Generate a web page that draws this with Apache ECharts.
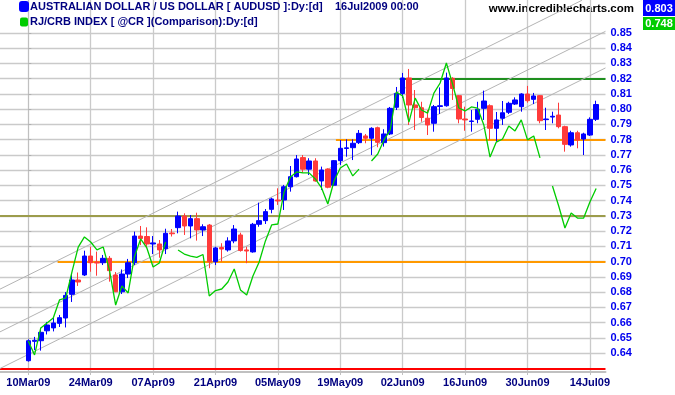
<!DOCTYPE html>
<html><head><meta charset="utf-8">
<script src="https://cdn.jsdelivr.net/npm/echarts@6/dist/echarts.min.js"></script>
<style>html,body{margin:0;padding:0;background:#fff}#c{width:675px;height:395px}</style>
</head><body><div id="c"></div>
<script>
const dates = ['10Mar09','11Mar09','12Mar09','13Mar09','16Mar09','17Mar09','18Mar09','19Mar09','20Mar09','23Mar09','24Mar09','25Mar09','26Mar09','27Mar09','30Mar09','31Mar09',
'01Apr09','02Apr09','03Apr09','06Apr09','07Apr09','08Apr09','09Apr09','10Apr09','13Apr09','14Apr09','15Apr09','16Apr09','17Apr09','20Apr09','21Apr09','22Apr09','23Apr09','24Apr09','27Apr09','28Apr09','29Apr09','30Apr09',
'01May09','04May09','05May09','06May09','07May09','08May09','11May09','12May09','13May09','14May09','15May09','18May09','19May09','20May09','21May09','22May09','25May09','26May09','27May09','28May09','29May09',
'01Jun09','02Jun09','03Jun09','04Jun09','05Jun09','08Jun09','09Jun09','10Jun09','11Jun09','12Jun09','15Jun09','16Jun09','17Jun09','18Jun09','19Jun09','22Jun09','23Jun09','24Jun09','25Jun09','26Jun09','29Jun09','30Jun09',
'01Jul09','02Jul09','03Jul09','06Jul09','07Jul09','08Jul09','09Jul09','10Jul09','13Jul09','14Jul09','15Jul09'];
const tickLabels = ['10Mar09','24Mar09','07Apr09','21Apr09','05May09','19May09','02Jun09','16Jun09','30Jun09','14Jul09'];
const yTicks = [0.64,0.65,0.66,0.67,0.68,0.69,0.70,0.71,0.72,0.73,0.74,0.75,0.76,0.77,0.78,0.79,0.80,0.81,0.82,0.83,0.84,0.85];

const opens = [0.6351,0.6478,0.6482,0.6547,0.6566,0.6596,0.6631,0.6786,0.6880,0.6913,0.7037,0.6998,0.6993,0.7022,0.6913,0.6803,0.6919,0.6993,0.7168,0.7165,
0.7116,0.7116,0.7085,0.7188,0.7223,0.7299,0.7234,0.7282,0.7208,0.7240,0.7000,0.7093,0.7077,0.7136,0.7175,0.7077,0.7064,0.7245,0.7269,0.7343,
0.7404,0.7404,0.7491,0.7557,0.7682,0.7606,0.7660,0.7529,0.7607,0.7501,0.7662,0.7742,0.7747,0.7780,0.7824,0.7809,0.7878,0.7780,0.7837,0.8012,
0.8102,0.8204,0.8027,0.8009,0.7940,0.7907,0.8017,0.8022,0.8202,0.8088,0.7935,0.7919,0.7933,0.8005,0.8022,0.7874,0.7940,0.7979,0.8033,0.8016,
0.8099,0.8064,0.8088,0.7931,0.7948,0.7961,0.7885,0.7765,0.7845,0.7804,0.7830,0.7933];
const closes = [0.6482,0.6485,0.6537,0.6585,0.6598,0.6633,0.6779,0.6880,0.6867,0.7037,0.6993,0.6991,0.7022,0.6941,0.6803,0.6919,0.6993,0.7168,0.7152,0.7116,
0.7123,0.7077,0.7186,0.7183,0.7299,0.7234,0.7282,0.7208,0.7229,0.7000,0.7090,0.7083,0.7136,0.7214,0.7073,0.7070,0.7245,0.7269,0.7328,0.7411,
0.7398,0.7491,0.7557,0.7673,0.7606,0.7660,0.7529,0.7601,0.7488,0.7662,0.7743,0.7746,0.7776,0.7841,0.7809,0.7874,0.7782,0.7837,0.8005,0.8102,
0.8204,0.8027,0.8009,0.7945,0.7896,0.8016,0.8022,0.8204,0.8135,0.7935,0.7929,0.7922,0.7999,0.8053,0.7874,0.7929,0.7976,0.8038,0.8060,0.8099,
0.8055,0.8086,0.7924,0.7935,0.7953,0.7885,0.7769,0.7845,0.7797,0.7837,0.7933,0.8030];
const lows = [0.6345,0.6421,0.6417,0.6523,0.6543,0.6572,0.6569,0.6736,0.6841,0.6906,0.6934,0.6908,0.6978,0.6869,0.6801,0.6788,0.6893,0.6978,0.7109,0.7088,
0.7050,0.7026,0.7050,0.7165,0.7186,0.7175,0.7153,0.7138,0.7168,0.6957,0.6978,0.7000,0.7066,0.7121,0.7066,0.6990,0.7059,0.7229,0.7247,0.7317,
0.7372,0.7339,0.7459,0.7552,0.7583,0.7568,0.7524,0.7470,0.7481,0.7496,0.7634,0.7688,0.7666,0.7771,0.7776,0.7699,0.7750,0.7754,0.7830,0.7994,
0.8073,0.7896,0.7863,0.7917,0.7830,0.7852,0.7968,0.8016,0.8060,0.7907,0.7858,0.7852,0.7907,0.7929,0.7797,0.7786,0.7896,0.7968,0.8027,0.7983,
0.8042,0.8033,0.7907,0.7863,0.7907,0.7874,0.7721,0.7754,0.7743,0.7699,0.7824,0.7922];
const highs = [0.6491,0.6507,0.6566,0.6605,0.6631,0.6651,0.6801,0.6919,0.6929,0.7072,0.7098,0.7066,0.7044,0.7037,0.6932,0.6949,0.7018,0.7197,0.7234,0.7225,
0.7168,0.7142,0.7216,0.7214,0.7328,0.7317,0.7306,0.7321,0.7245,0.7247,0.7098,0.7121,0.7160,0.7240,0.7190,0.7098,0.7254,0.7387,0.7345,0.7419,
0.7481,0.7503,0.7627,0.7699,0.7699,0.7678,0.7678,0.7623,0.7612,0.7666,0.7797,0.7802,0.7802,0.7863,0.7837,0.7881,0.7885,0.7868,0.8014,0.8145,
0.8237,0.8263,0.8125,0.8048,0.7994,0.8027,0.8142,0.8239,0.8209,0.8092,0.8016,0.7994,0.8048,0.8121,0.8031,0.7981,0.8053,0.8048,0.8077,0.8104,
0.8152,0.8106,0.8092,0.8009,0.7983,0.8042,0.7891,0.7858,0.7858,0.7845,0.7946,0.8055];
const crb = [0.6480,0.6389,0.6566,0.6598,0.6631,0.6749,0.6762,0.6933,0.7096,0.7162,0.7129,0.7077,0.7096,0.6946,0.6716,0.6841,0.6795,0.7031,0.7149,0.7090,
0.6965,0.6991,0.7129,null,0.7077,0.7050,0.7037,0.7028,0.7047,0.6775,0.6811,0.6821,0.6867,0.6952,0.6815,0.6782,0.6906,0.6998,0.7136,0.7241,
0.7247,0.7457,0.7555,0.7588,0.7582,0.7582,0.7542,0.7483,0.7378,0.7529,0.7614,0.7640,0.7562,0.7607,null,0.7660,0.7706,0.7798,0.7863,0.8112,
0.8086,0.7915,0.8072,0.7994,0.7974,0.8105,0.8171,0.8302,0.8164,0.8007,0.7988,0.8014,0.8007,0.7896,0.7686,0.7784,0.7804,0.7889,0.7857,0.7929,
0.7798,0.7824,0.7680,null,0.7496,0.7365,0.7221,0.7319,0.7286,0.7286,0.7391,0.7480];

// annotation levels drawn on the chart
const levelValues = [0.63, 0.73, 0.70, 0.78, 0.82];
const levelStartDates = [null, null, '17Mar09', '19May09', '02Jun09'];
const channelStartValues = [0.682, 0.654, 0.630];
const channelSlopePerDay = 0.00203;

const audName = 'AUSTRALIAN DOLLAR / US DOLLAR [ AUDUSD ]:Dy:[d]    16Jul2009 00:00';
const crbName = 'RJ/CRB INDEX [ @CR ](Comparison):Dy:[d]';

const X_MIN = -4.535, X_MAX = 92.5, Y_MIN = 0.6277, Y_MAX = 0.8715;
const EPS_X = 0.002, EPS_Y = 0.00002;
const idx = d => dates.indexOf(d);
const candleData = dates.map((d, i) => [i, opens[i], closes[i], lows[i], highs[i]]);
const crbData = dates.map((d, i) => [i, crb[i] == null ? null : crb[i]]);
const tickIdx = tickLabels.map(idx);

const gridLines = [];
tickIdx.forEach(i => gridLines.push([{coord:[i, Y_MIN + EPS_Y]}, {coord:[i, Y_MAX - EPS_Y]}]));
yTicks.forEach(v => gridLines.push([{coord:[X_MIN + EPS_X, v]}, {coord:[X_MAX - EPS_X, v]}]));

const annLines = [];
const levelStyles = [
  {color:'#ff0000', width:2, type:'solid'},
  {color:'#9c9c4c', width:2, type:'solid'},
  {color:'#ff9900', width:2, type:'solid'},
  {color:'#ff9900', width:2, type:'solid'},
  {color:'#1f8f1f', width:2, type:'solid'}
];
const levelStartShift = [0, 0, -0.3, -0.7, -0.5];
levelValues.forEach((v, k) => {
  const s = levelStartDates[k] == null ? X_MIN + EPS_X : idx(levelStartDates[k]) + levelStartShift[k];
  annLines.push([{coord:[s, v], lineStyle: levelStyles[k]}, {coord:[X_MAX - EPS_X, v]}]);
});
channelStartValues.forEach(v0 => {
  let xe = X_MAX - EPS_X, ye = v0 + channelSlopePerDay * (xe - X_MIN);
  if (ye > Y_MAX - 0.0002) { ye = Y_MAX - 0.0002; xe = X_MIN + (ye - v0) / channelSlopePerDay; }
  annLines.push([
    {coord:[X_MIN + EPS_X, v0], lineStyle:{color:'#b4b4b4', width:1, type:'solid'}},
    {coord:[xe, ye]}
  ]);
});

const chart = echarts.init(document.getElementById('c'), null, {renderer:'canvas'});
chart.setOption({
  animation: false,
  backgroundColor: '#ffffff',
  grid: {left: 0, right: 69.5, top: 0, bottom: 23, containLabel: false},
  legend: {
    orient: 'vertical', left: 19, top: 1, padding: 0, itemGap: 4.5, itemWidth: 8, itemHeight: 9,
    selectedMode: false,
    textStyle: {fontFamily: 'Arial', fontWeight: 'bold', fontSize: 11, color: '#000080', padding: [0,0,0,-3]},
    data: [
      {name: audName, icon: 'roundRect', itemStyle: {color: '#0000ff'}},
      {name: crbName, icon: 'roundRect', itemStyle: {color: '#00cc00'}}
    ]
  },
  xAxis: {
    type: 'value', min: X_MIN, max: X_MAX,
    axisLine: {show: true, onZero: false, lineStyle: {color: '#c0c0c0', width: 2}},
    axisTick: {show: true, length: 3, customValues: tickIdx, lineStyle: {color: '#c0c0c0'}},
    axisLabel: {
      customValues: tickIdx, margin: 5,
      formatter: v => dates[Math.round(v)] || '',
      fontFamily: 'Arial', fontWeight: 'bold', fontSize: 11, color: '#000080'
    },
    splitLine: {show: false}
  },
  yAxis: {
    type: 'value', position: 'right', min: Y_MIN, max: Y_MAX, scale: true,
    axisLine: {show: true, lineStyle: {color: '#c0c0c0', width: 1}},
    axisTick: {show: true, length: 3, customValues: yTicks, lineStyle: {color: '#b0b0b0'}},
    axisLabel: {
      customValues: yTicks, margin: 5,
      formatter: v => v.toFixed(2),
      fontFamily: 'Arial', fontWeight: 'bold', fontSize: 11, color: '#0000ee'
    },
    splitLine: {show: false}
  },
  graphic: [
    {type: 'text', right: 41, top: 3, style: {text: 'www.incrediblecharts.com', font: 'bold 11.5px Arial', fill: '#000000'}},
    {type: 'rect', shape: {x: 643, y: 0, width: 32, height: 16}, style: {fill: '#0000ff'}},
    {type: 'text', x: 659, y: 8.5, style: {text: closes[closes.length-1].toFixed(3), font: 'bold 11px Arial', fill: '#ffffff', align: 'center', verticalAlign: 'middle'}},
    {type: 'rect', shape: {x: 643, y: 17, width: 32, height: 13}, style: {fill: '#00cc00'}},
    {type: 'text', x: 659, y: 23.5, style: {text: crb[crb.length-1].toFixed(3), font: 'bold 11px Arial', fill: '#ffffff', align: 'center', verticalAlign: 'middle'}}
  ],
  series: [
    {
      name: audName, type: 'candlestick', z: 2, barWidth: 5,
      encode: {x: 0, y: [1, 2, 3, 4]},
      data: candleData,
      itemStyle: {color: '#0000ff', color0: '#ff3b3b', borderColor: '#0000ff', borderColor0: '#ff3b3b', borderWidth: 1},
      markLine: {
        silent: true, symbol: 'none', z: 0, animation: false,
        label: {show: false},
        lineStyle: {color: '#cacaca', width: 1.3, type: 'solid', opacity: 1},
        data: gridLines
      }
    },
    {
      name: crbName, type: 'line', z: 3, showSymbol: false, connectNulls: false,
      data: crbData,
      lineStyle: {color: '#00cc00', width: 1.3},
      itemStyle: {color: '#00cc00'},
      markLine: {
        silent: true, symbol: 'none', z: 1, animation: false,
        label: {show: false},
        lineStyle: {type: 'solid'},
        data: annLines
      }
    }
  ]
});
</script></body></html>
